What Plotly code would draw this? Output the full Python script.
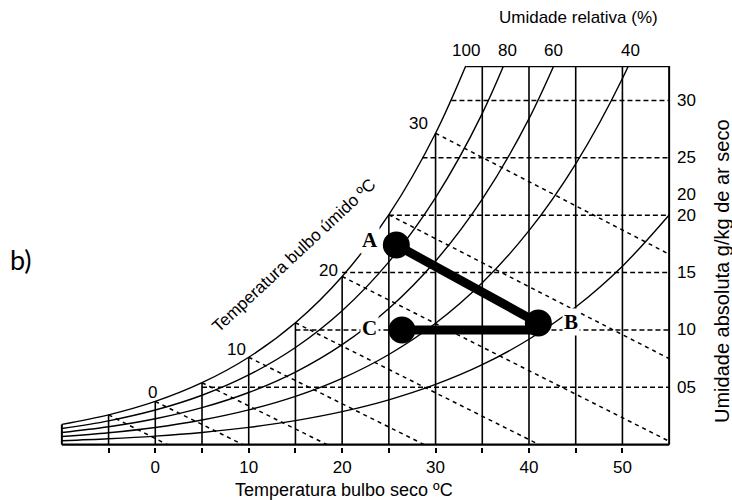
import plotly.graph_objects as go

# ---------------- data ----------------
T_GRID = [-10, -5, 0, 5, 10, 15, 20, 25, 30, 35, 40, 45, 50, 55]
# absolute humidity (g/kg) of relative-humidity curves at T_GRID
RH_LABELS = ["100", "80", "60", "40", "20"]
RH100 = [1.77, 2.60, 3.77, 5.40, 7.62, 10.63, 14.66, 20.04, 27.14, 36.50]
RH80 = [1.41, 2.08, 3.02, 4.31, 6.08, 8.47, 11.68, 15.93, 21.53, 28.87, 38.46]
RH60 = [1.06, 1.56, 2.26, 3.23, 4.55, 6.33, 8.72, 11.87, 16.01, 21.40, 28.41, 37.45]
RH40 = [0.71, 1.04, 1.50, 2.15, 3.03, 4.21, 5.78, 7.86, 10.58, 14.11, 18.65, 24.48, 31.91, 41.37]
RH20 = [0.35, 0.52, 0.75, 1.07, 1.51, 2.10, 2.88, 3.91, 5.25, 6.97, 9.19, 12.00, 15.56, 20.02]
RH_CURVES = [RH100, RH80, RH60, RH40, RH20]
RH_TOP_LABEL_T = [33.3, 37.7, 42.6, 50.9]      # where 100/80/60/40 labels sit
RH20_LABEL_W = 21.8

# dry-bulb vertical grid lines (°C) and their top (g/kg)
VERT_T = [-5, 0, 5, 10, 15, 20, 25, 30, 35, 40, 45, 50]
VERT_TOP = [2.60, 3.77, 5.40, 7.62, 10.63, 14.66, 20.04, 27.14, 33, 33, 33, 33]

# absolute humidity horizontal dashed lines
HUM_W = [5, 10, 15, 20, 25, 30]
HUM_TEXT = ["05", "10", "15", "20", "25", "30"]
HUM_START_T = [5, 15, 20, 25, 28.6, 31.7]

# wet-bulb dashed lines
WB_T = [-5, 0, 5, 10, 15, 20, 25, 30]
WB_START_W = [2.60, 3.77, 5.40, 7.62, 10.63, 14.66, 20.04, 27.14]
WB_END_T = [1.3, 9.4, 18.4, 28.8, 41.1, 55, 55, 55]
WB_END_W = [0, 0, 0, 0, 0, 0.3, 7.5, 16.6]
WB_LABELS = ["0", "10", "20", "30"]
WB_LABEL_T = [-0.25, 8.74, 18.49, 28.12]
WB_LABEL_W = [4.56, 8.31, 15.19, 28.0]

X_TICKS = [-5, 0, 5, 10, 15, 20, 25, 30, 35, 40, 45, 50]
X_TICK_TEXT = ["", "0", "", "10", "", "20", "", "30", "", "40", "", "50"]

# process points (A, B, C) and the drawn path A -> B -> C
PT_NAMES = ["A", "B", "C"]
PT_T = [25.8, 41.0, 26.4]
PT_W = [17.4, 10.6, 10.0]
PATH_T = [25.8, 41.0, 41.0, 26.4]
PATH_W = [17.4, 10.6, 10.0, 10.0]

T_MIN, T_MAX, W_MAX = -10, 55, 33
T_TOP_SAT = 33.28
W_LEFT_SAT = 1.77

FONT = "Liberation Sans, Arial, sans-serif"
BLACK = "#000000"

fig = go.Figure()

# RH curves
for vals in RH_CURVES:
    fig.add_trace(go.Scatter(x=T_GRID[:len(vals)], y=vals, mode="lines",
                             line=dict(color=BLACK, width=1.4, shape="spline"),
                             hoverinfo="skip", showlegend=False))

# vertical lines
vx, vy = [], []
for t, top in zip(VERT_T, VERT_TOP):
    vx += [t, t, None]
    vy += [0, top, None]
fig.add_trace(go.Scatter(x=vx, y=vy, mode="lines", line=dict(color=BLACK, width=1.6),
                         hoverinfo="skip", showlegend=False))

# horizontal dashed lines
hx, hy = [], []
for w, t0 in zip(HUM_W, HUM_START_T):
    hx += [t0, T_MAX, None]
    hy += [w, w, None]
fig.add_trace(go.Scatter(x=hx, y=hy, mode="lines",
                         line=dict(color=BLACK, width=1.5, dash="5px,3px"),
                         hoverinfo="skip", showlegend=False))

# wet-bulb dashed lines
wx, wy = [], []
for t0, w0, t1, w1 in zip(WB_T, WB_START_W, WB_END_T, WB_END_W):
    wx += [t0, t1, None]
    wy += [w0, w1, None]
fig.add_trace(go.Scatter(x=wx, y=wy, mode="lines",
                         line=dict(color=BLACK, width=1.5, dash="4px,4px"),
                         hoverinfo="skip", showlegend=False))

# process lines and points
fig.add_trace(go.Scatter(x=PATH_T, y=PATH_W, mode="lines",
                         line=dict(color=BLACK, width=9),
                         hoverinfo="skip", showlegend=False))
fig.add_trace(go.Scatter(x=PT_T, y=PT_W, mode="markers",
                         marker=dict(color=BLACK, size=27),
                         hoverinfo="skip", showlegend=False))

# frame
shapes = [
    dict(type="line", x0=T_MIN, x1=T_MAX, y0=0, y1=0, line=dict(color=BLACK, width=2.2)),
    dict(type="line", x0=T_MAX, x1=T_MAX, y0=0, y1=W_MAX, line=dict(color=BLACK, width=2)),
    dict(type="line", x0=T_TOP_SAT, x1=T_MAX, y0=W_MAX, y1=W_MAX, line=dict(color=BLACK, width=2.4)),
    dict(type="line", x0=T_MIN, x1=T_MIN, y0=0, y1=W_LEFT_SAT, line=dict(color=BLACK, width=2)),
]

ann = []
tf = dict(family=FONT, size=17, color=BLACK)
# RH labels at top
for txt, t in zip(RH_LABELS[:4], RH_TOP_LABEL_T):
    ann.append(dict(x=t, y=W_MAX, xref="x", yref="y", text=txt, showarrow=False,
                    xanchor="center", yanchor="bottom", yshift=4, font=tf))
ann.append(dict(x=T_MAX, y=RH20_LABEL_W, xref="x", yref="y", text=RH_LABELS[4], showarrow=False,
                xanchor="left", yanchor="middle", xshift=6, font=tf))
# humidity labels on the right
for txt, w in zip(HUM_TEXT, HUM_W):
    ann.append(dict(x=T_MAX, y=w, xref="x", yref="y", text=txt, showarrow=False,
                    xanchor="left", yanchor="middle", xshift=6, font=tf))
# wet-bulb labels
for txt, t, w in zip(WB_LABELS, WB_LABEL_T, WB_LABEL_W):
    ann.append(dict(x=t, y=w, xref="x", yref="y", text=txt, showarrow=False,
                    xanchor="center", yanchor="middle", font=tf))
# point labels
pshift = {"A": (-26, -5), "B": (33, -1), "C": (-32, -2)}
for name, t, w in zip(PT_NAMES, PT_T, PT_W):
    dx, dy = pshift[name]
    ann.append(dict(x=t, y=w, xref="x", yref="y", text="<b>%s</b>" % name, showarrow=False,
                    xanchor="center", yanchor="middle",
                    xshift=dx, yshift=-dy, bgcolor="white", borderpad=1,
                    font=dict(family="Liberation Serif, Times New Roman, serif", size=21, color=BLACK)))
# titles
ann.append(dict(x=14.84, y=16.5, xref="x", yref="y", text="Temperatura bulbo úmido ºC",
                xanchor="center", yanchor="middle",
                showarrow=False, textangle=-43, font=tf))
ann.append(dict(x=0.848, y=1.126, xref="paper", yref="paper", text="Umidade relativa (%)",
                xanchor="center", yanchor="middle", showarrow=False, font=tf))
ann.append(dict(x=20.2, y=-0.113, xref="x", yref="paper", text="Temperatura bulbo seco ºC",
                xanchor="center", yanchor="middle", showarrow=False,
                font=dict(family=FONT, size=18, color=BLACK)))
ann.append(dict(x=1.0835, y=0.462, xref="paper", yref="paper", text="Umidade absoluta g/kg de ar seco",
                xanchor="center", yanchor="middle", showarrow=False, textangle=-90,
                font=dict(family=FONT, size=20, color=BLACK)))
ann.append(dict(x=-0.064, y=0.4925, xref="paper", yref="paper", text="b)",
                xanchor="center", yanchor="middle", showarrow=False,
                font=dict(family="Lato, Open Sans, sans-serif", size=27, color=BLACK)))

fig.update_layout(
    width=732, height=500,
    margin=dict(l=60, r=61, t=66, b=53),
    paper_bgcolor="white", plot_bgcolor="white",
    shapes=shapes, annotations=ann, showlegend=False,
    xaxis=dict(range=[-10.2, 55.2], showgrid=False, zeroline=False, showline=False,
               tickvals=X_TICKS, ticktext=X_TICK_TEXT, ticks="outside", ticklen=5,
               tickwidth=1.6, tickcolor=BLACK, ticklabelstandoff=0, tickfont=tf),
    yaxis=dict(range=[-0.2, 33], showgrid=False, zeroline=False, showline=False,
               showticklabels=False, ticks=""),
)

# remove the default page margin so the 732x500 figure fills the window exactly
fig.write_html("out.html", config={"displayModeBar": False},
               post_script="document.body.style.margin='0';document.body.style.overflow='hidden';")
